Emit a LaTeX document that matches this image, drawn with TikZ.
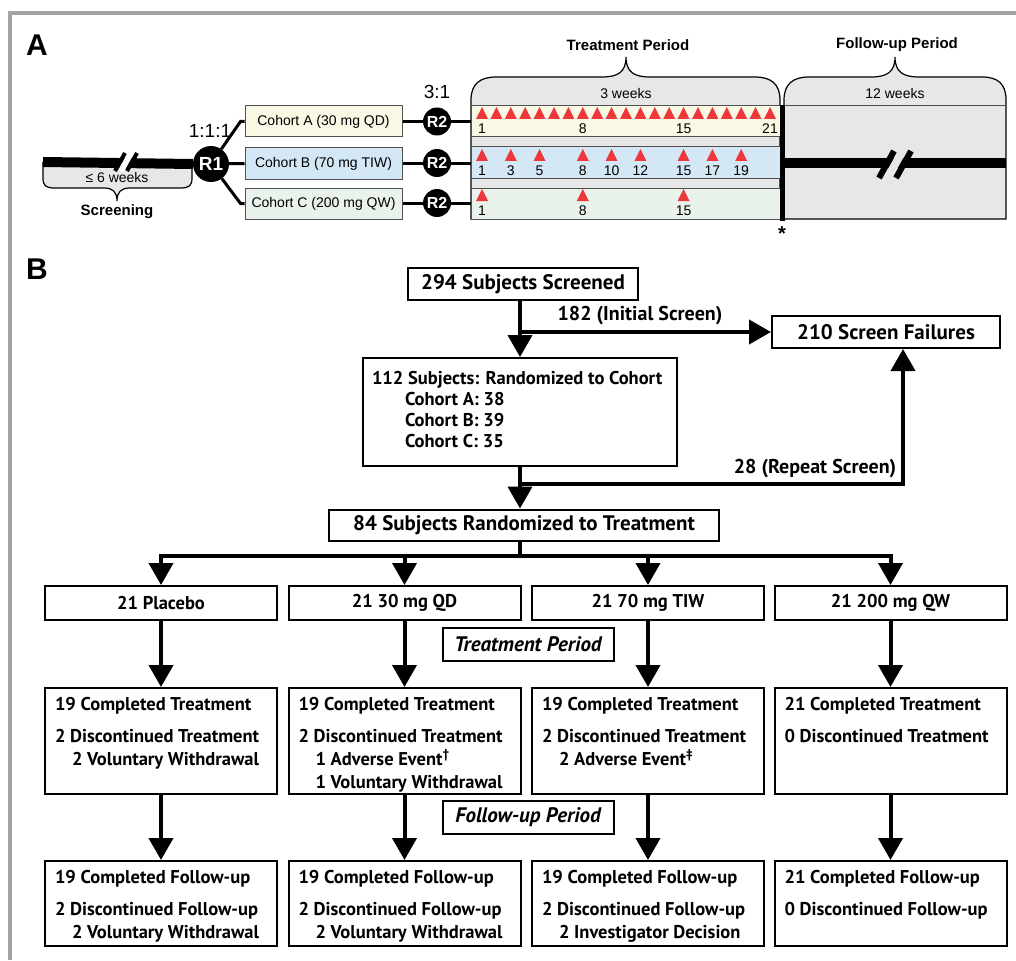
\documentclass[tikz,border=0pt]{standalone}
\usepackage{fontspec}
\setmainfont{Liberation Sans}
\newfontfamily\flowfont{PT Sans}
\usetikzlibrary{arrows.meta}

\definecolor{frameGrey}{RGB}{163,163,163}
\definecolor{panelGrey}{RGB}{230,231,232}
\definecolor{cohYellow}{RGB}{249,248,228}
\definecolor{cohBlue}{RGB}{211,231,245}
\definecolor{cohGreen}{RGB}{233,242,235}
\definecolor{doseRed}{RGB}{238,55,58}
\definecolor{bandLine}{RGB}{80,80,80}

\newcommand{\dose}[2]{\fill[doseRed] (#1-6,#2) -- (#1+6,#2) -- (#1,#2-12) -- cycle;}
\newcommand{\ind}{\hspace*{17pt}}

\begin{document}
\begin{tikzpicture}[x=1pt,y=-1pt,
  cohort/.style={draw=bandLine, line width=1pt, minimum width=157pt, minimum height=31pt, inner sep=0pt, font=\fontsize{14}{17}\selectfont},
  rand/.style={circle, fill=black, text=white, inner sep=0pt},
  link/.style={line width=3pt},
  band/.style={draw=bandLine, line width=1pt},
  day/.style={font=\fontsize{14}{17}\selectfont},
  head/.style={font=\bfseries\fontsize{15}{18}\selectfont},
  flow/.style={draw, line width=2pt, inner sep=0pt, font=\flowfont\bfseries\fontsize{18.5}{23}\selectfont},
  bigflow/.style={flow, font=\flowfont\bfseries\fontsize{21}{24}\selectfont},
  stage/.style={flow, minimum width=232pt, anchor=north},
  period/.style={flow, minimum width=171pt, minimum height=33pt, font=\flowfont\bfseries\itshape\fontsize{21}{24}\selectfont},
  flowlabel/.style={font=\flowfont\bfseries\fontsize{20}{24}\selectfont},
  arr/.style={line width=4pt, -{Triangle[length=22pt,width=24pt]}}]
  \useasboundingbox (0,0) rectangle (1016,960);

  % Frame
  \draw[frameGrey, line width=4pt] (9.5,960) -- (9.5,13.5) -- (1016,13.5);

  % Panel labels
  \node[font=\bfseries\fontsize{30}{30}\selectfont] (labA) at (37,45) {A};
  \node[font=\bfseries\fontsize{30}{30}\selectfont] (labB) at (37,269) {B};

  % Screening
  \filldraw[fill=panelGrey, draw=black, line width=1.2pt] (43,162) -- (43,178) .. controls (43,186) and (46,188) .. (55,188)
    -- (104,188) .. controls (113,188) and (117,192) .. (117,201) .. controls (117,192) and (121,188) .. (130,188)
    -- (180,188) .. controls (189,188) and (192,186) .. (192,178) -- (192,162);
  \node[font=\fontsize{14}{17}\selectfont] (scrWeeks) at (117,177) {≤ 6 weeks};
  \node[head] (scrLabel) at (117,212) {Screening};
  \node[rand, minimum size=36pt, font=\bfseries\fontsize{19}{19}\selectfont] (r1) at (211,164) {R1};
  \coordinate (scrStart) at (43,162);
  \draw[line width=10pt] (scrStart) -- (r1.west);
  \draw[white, line width=6pt] (121,171) -- (131,153);
  \draw[line width=4pt] (115,171) -- (125,153);
  \draw[line width=4pt] (127,171) -- (137,153);
  \node[font=\fontsize{19}{19}\selectfont] (ratio1) at (210,131) {1:1:1};

  % Cohorts
  \node[cohort, fill=cohYellow] (cohA) at (323.5,121.5) {Cohort A (30 mg QD)};
  \node[cohort, fill=cohBlue] (cohB) at (323.5,163.5) {Cohort B (70 mg TIW)};
  \node[cohort, fill=cohGreen] (cohC) at (323.5,203.5) {Cohort C (200 mg QW)};
  \draw[link] (r1) -- ([xshift=-4pt]cohA.west) -- (cohA.west);
  \draw[link] (r1) -- (cohB.west);
  \draw[link] (r1) -- ([xshift=-4pt]cohC.west) -- (cohC.west);

  % Treatment and follow-up periods
  \filldraw[fill=panelGrey, draw=black, line width=1.2pt]
    (471,219) -- (471,100) .. controls (471,84) and (480,77) .. (496,77)
    -- (602,77) .. controls (618,77) and (626,72) .. (626,57)
    .. controls (626,72) and (634,77) .. (650,77)
    -- (755,77) .. controls (771,77) and (780,84) .. (780,100) -- (780,219) -- cycle;
  \filldraw[fill=panelGrey, draw=black, line width=1.2pt]
    (784,219) -- (784,100) .. controls (784,84) and (793,77) .. (809,77)
    -- (871,77) .. controls (887,77) and (895,72) .. (895,57)
    .. controls (895,72) and (903,77) .. (919,77)
    -- (982,77) .. controls (998,77) and (1006,84) .. (1006,100) -- (1006,219) -- cycle;
  \node[head] (trtHead) at (628,45) {Treatment Period};
  \node[head] (fupHead) at (897,45) {Follow-up Period};
  \node[font=\fontsize{14}{17}\selectfont] (trtWeeks) at (626,93) {3 weeks};
  \node[font=\fontsize{14}{17}\selectfont] (fupWeeks) at (895,93) {12 weeks};
  \filldraw[band, fill=cohYellow] (471,106) rectangle (780,137);
  \filldraw[band, fill=cohBlue] (471,147) rectangle (780,178);
  \filldraw[band, fill=cohGreen] (471,188) rectangle (780,219);
  \draw[band] (784,106) -- (1006,106);
  \draw[line width=5pt] (782,105) -- (782,221);
  \node[font=\bfseries\fontsize{20}{20}\selectfont] (star) at (782,234) {*};

  % Follow-up bar
  \draw[line width=10pt] (784,163) -- (1006,163);
  \draw[panelGrey, line width=8pt] (887.5,178) -- (902.5,151);
  \draw[line width=6pt] (879,178) -- (894,151);
  \draw[line width=6pt] (896,178) -- (911,151);

  % Second randomisation
  \coordinate (trtA) at (471,121.5);
  \coordinate (trtB) at (471,163.5);
  \coordinate (trtC) at (471,203.5);
  \draw[link] (cohA.east) -- (trtA);
  \draw[link] (cohB.east) -- (trtB);
  \draw[link] (cohC.east) -- (trtC);
  \foreach \r/\y in {a/121.5,b/163,c/203}
    \node[rand, minimum size=28pt, font=\bfseries\fontsize{16}{16}\selectfont] (r2\r) at (437,\y) {R2};
  \node[font=\fontsize{19}{19}\selectfont] (ratio2) at (437,92) {3:1};

  % Doses
  \foreach \d in {1,...,21} {
    \pgfmathsetmacro\x{482+(\d-1)*14.4}
    \dose{\x}{119}
  }
  \foreach \d in {1,8,15,21}
    \node[day] at ({482+(\d-1)*14.4},129) {\d};
  \foreach \d in {1,3,5,8,10,12,15,17,19} {
    \pgfmathsetmacro\x{482+(\d-1)*14.4}
    \dose{\x}{161}
    \node[day] at (\x,171) {\d};
  }
  \foreach \d in {1,8,15} {
    \pgfmathsetmacro\x{482+(\d-1)*14.4}
    \dose{\x}{201}
    \node[day] at (\x,211) {\d};
  }

  % Panel B: screening
  \node[bigflow, minimum width=230pt, minimum height=32pt] (screened) at (523,284) {294 Subjects Screened};
  \node[bigflow, minimum width=228pt, minimum height=32pt] (fail) at (886,332) {210 Screen Failures};
  \node[flow, minimum width=314pt, minimum height=108pt] (cohort) at (520,412)
    {\parbox[c][108pt][t]{296pt}{\raggedright\fontsize{18.5}{21}\selectfont\rule{0pt}{26pt}112 Subjects: Randomized to Cohort\\
      \hspace*{33pt}Cohort A: 38\\ \hspace*{33pt}Cohort B: 39\\ \hspace*{33pt}Cohort C: 35}};
  \node[bigflow, minimum width=390pt, minimum height=31pt] (randomized) at (524,525) {84 Subjects Randomized to Treatment};
  \coordinate (repeat) at (520,484);
  \draw[arr] (repeat |- screened.south) -- (repeat |- cohort.north);
  \draw[arr] (repeat |- fail.west) -- (fail.west);
  \draw[arr] (repeat |- cohort.south) -- (repeat |- randomized.north);
  \draw[arr] (repeat) -| ([xshift=17pt]fail.south);
  \node[flowlabel] (initLbl) at (640,316) {182 (Initial Screen)};
  \node[flowlabel] (repeatLbl) at (815,469) {28 (Repeat Screen)};

  % Arms
  \node[flow, minimum width=232pt, minimum height=34pt] (rPlacebo) at (161,603) {21 Placebo};
  \node[flow, minimum width=232pt, minimum height=34pt] (rQD) at (404.5,603) {21 30 mg QD};
  \node[flow, minimum width=232pt, minimum height=34pt] (rTIW) at (648,603) {21 70 mg TIW};
  \node[flow, minimum width=232pt, minimum height=34pt] (rQW) at (890.5,603) {21 200 mg QW};
  \coordinate (split) at (520,556);
  \draw[line width=4pt] (repeat |- randomized.south) -- (split);
  \draw[line width=4pt, line cap=rect] (rPlacebo.north |- split) -- (rQW.north |- split);

  % Treatment period
  \node[period] (trtPeriod) at (528,644) {Treatment Period};
  \node[stage, minimum height=106pt] (tPlacebo) at (161,687)
    {\parbox[c][106pt][t]{212pt}{\raggedright\rule{0pt}{22pt}19 Completed Treatment\\[9pt]2 Discontinued Treatment\\\ind 2 Voluntary Withdrawal}};
  \node[stage, minimum height=106pt] (tQD) at (404.5,687)
    {\parbox[c][106pt][t]{212pt}{\raggedright\rule{0pt}{22pt}19 Completed Treatment\\[9pt]2 Discontinued Treatment\\\ind 1 Adverse Event\textsuperscript{†}\\\ind 1 Voluntary Withdrawal}};
  \node[stage, minimum height=106pt] (tTIW) at (648,687)
    {\parbox[c][106pt][t]{212pt}{\raggedright\rule{0pt}{22pt}19 Completed Treatment\\[9pt]2 Discontinued Treatment\\\ind 2 Adverse Event\textsuperscript{‡}}};
  \node[stage, minimum height=106pt] (tQW) at (890.5,687)
    {\parbox[c][106pt][t]{212pt}{\raggedright\rule{0pt}{22pt}21 Completed Treatment\\[9pt]0 Discontinued Treatment}};

  % Follow-up period
  \node[period] (fupPeriod) at (528,817) {Follow-up Period};
  \node[stage, minimum height=85pt] (fPlacebo) at (161,860)
    {\parbox[c][85pt][t]{212pt}{\raggedright\rule{0pt}{22pt}19 Completed Follow-up\\[9pt]2 Discontinued Follow-up\\\ind 2 Voluntary Withdrawal}};
  \node[stage, minimum height=85pt] (fQD) at (404.5,860)
    {\parbox[c][85pt][t]{212pt}{\raggedright\rule{0pt}{22pt}19 Completed Follow-up\\[9pt]2 Discontinued Follow-up\\\ind 2 Voluntary Withdrawal}};
  \node[stage, minimum height=85pt] (fTIW) at (648,860)
    {\parbox[c][85pt][t]{212pt}{\raggedright\rule{0pt}{22pt}19 Completed Follow-up\\[9pt]2 Discontinued Follow-up\\\ind 2 Investigator Decision}};
  \node[stage, minimum height=85pt] (fQW) at (890.5,860)
    {\parbox[c][85pt][t]{212pt}{\raggedright\rule{0pt}{22pt}21 Completed Follow-up\\[9pt]0 Discontinued Follow-up}};

  % Arm arrows
  \foreach \n in {Placebo,QD,TIW,QW} {
    \draw[arr] (r\n.north |- split) -- (r\n.north);
    \draw[arr] (r\n.south) -- (t\n.north);
    \draw[arr] (t\n.south) -- (f\n.north);
  }
\end{tikzpicture}
\end{document}
